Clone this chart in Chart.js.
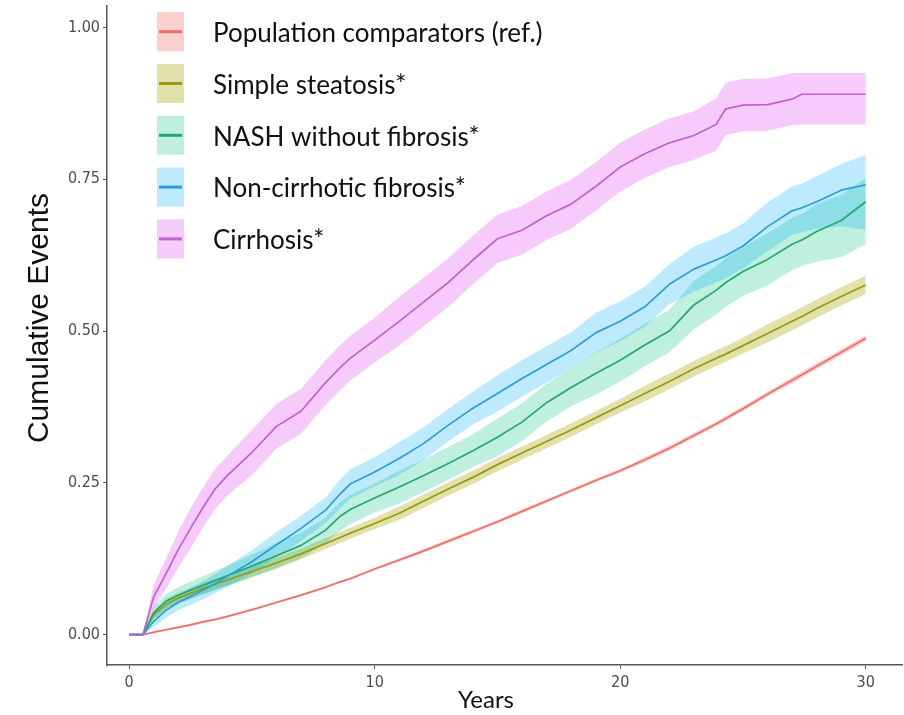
<!DOCTYPE html>
<html>
<head>
<meta charset="utf-8">
<title>Cumulative Events</title>
<script src="https://cdn.jsdelivr.net/npm/chart.js@4.4.1/dist/chart.umd.min.js"></script>
<style>
  html, body { margin: 0; padding: 0; background: #fff; }
  #kmChart { display: block; }
</style>
</head>
<body>
<canvas id="kmChart" width="904" height="715"></canvas>
<script>
// time points (years) shared by every curve
const years = [0, 0.56, 1, 1.5, 2, 2.5, 3, 3.5, 4, 5, 6, 7, 8, 8.6, 9, 10, 11, 12, 13, 14, 15, 16, 17, 18, 19, 20, 21, 22, 23, 23.9, 24.3, 25, 26, 27, 27.4, 28, 29, 30];

const xTicks = [0, 10, 20, 30];
const yTicks = [0, 0.25, 0.5, 0.75, 1];

const seriesNames = [
    'Population comparators (ref.)',
    'Simple steatosis*',
    'NASH without fibrosis*',
    'Non-cirrhotic fibrosis*',
    'Cirrhosis*'
];

// Population comparators (ref.)
const popMean = [0, 0, 0.004, 0.008, 0.012, 0.016, 0.021, 0.025, 0.03, 0.041, 0.053, 0.065, 0.078, 0.087, 0.092, 0.108, 0.123, 0.138, 0.154, 0.17, 0.186, 0.203, 0.22, 0.237, 0.254, 0.27, 0.288, 0.307, 0.328, 0.347, 0.356, 0.372, 0.396, 0.419, 0.428, 0.442, 0.465, 0.488];
const popHigh = [0, 0, 0.006, 0.010, 0.014, 0.018, 0.023, 0.027, 0.032, 0.043, 0.055, 0.067, 0.080, 0.089, 0.094, 0.110, 0.126, 0.141, 0.157, 0.173, 0.189, 0.206, 0.223, 0.240, 0.257, 0.273, 0.292, 0.311, 0.332, 0.351, 0.360, 0.376, 0.400, 0.424, 0.433, 0.447, 0.470, 0.493];
const popLow = [0, 0, 0.002, 0.006, 0.010, 0.014, 0.019, 0.023, 0.028, 0.039, 0.051, 0.063, 0.076, 0.085, 0.090, 0.106, 0.120, 0.135, 0.151, 0.167, 0.183, 0.200, 0.217, 0.234, 0.251, 0.267, 0.284, 0.303, 0.324, 0.343, 0.352, 0.368, 0.392, 0.414, 0.423, 0.437, 0.460, 0.483];

// Simple steatosis
const ssMean = [0, 0, 0.033, 0.05, 0.06, 0.068, 0.076, 0.083, 0.09, 0.104, 0.118, 0.133, 0.15, 0.16, 0.167, 0.183, 0.2, 0.22, 0.24, 0.259, 0.28, 0.299, 0.318, 0.337, 0.357, 0.377, 0.397, 0.417, 0.438, 0.455, 0.462, 0.476, 0.496, 0.516, 0.524, 0.537, 0.557, 0.576];
const ssHigh = [0, 0, 0.040, 0.059, 0.069, 0.077, 0.085, 0.092, 0.099, 0.113, 0.127, 0.142, 0.159, 0.169, 0.176, 0.192, 0.211, 0.231, 0.251, 0.270, 0.291, 0.310, 0.329, 0.348, 0.368, 0.388, 0.410, 0.430, 0.451, 0.468, 0.475, 0.489, 0.511, 0.531, 0.539, 0.552, 0.572, 0.591];
const ssLow = [0, 0, 0.026, 0.041, 0.051, 0.059, 0.067, 0.074, 0.081, 0.095, 0.109, 0.124, 0.141, 0.151, 0.158, 0.174, 0.189, 0.209, 0.229, 0.248, 0.269, 0.288, 0.307, 0.326, 0.346, 0.366, 0.384, 0.404, 0.425, 0.442, 0.449, 0.463, 0.481, 0.501, 0.509, 0.522, 0.542, 0.561];

// NASH without fibrosis
const nashMean = [0, 0, 0.036, 0.055, 0.065, 0.073, 0.081, 0.089, 0.097, 0.113, 0.13, 0.147, 0.172, 0.195, 0.206, 0.225, 0.243, 0.262, 0.282, 0.303, 0.325, 0.35, 0.382, 0.407, 0.43, 0.452, 0.477, 0.5, 0.543, 0.567, 0.58, 0.598, 0.618, 0.643, 0.65, 0.664, 0.682, 0.713];
const nashHigh = [0, 0, 0.046, 0.067, 0.078, 0.087, 0.096, 0.105, 0.114, 0.132, 0.151, 0.168, 0.193, 0.219, 0.230, 0.249, 0.270, 0.289, 0.309, 0.330, 0.356, 0.381, 0.413, 0.438, 0.465, 0.487, 0.512, 0.535, 0.583, 0.607, 0.620, 0.638, 0.661, 0.686, 0.693, 0.709, 0.724, 0.752];
const nashLow = [0, 0, 0.026, 0.043, 0.052, 0.059, 0.066, 0.073, 0.080, 0.094, 0.109, 0.126, 0.151, 0.171, 0.182, 0.201, 0.216, 0.235, 0.255, 0.276, 0.294, 0.319, 0.351, 0.376, 0.395, 0.417, 0.442, 0.465, 0.503, 0.527, 0.540, 0.558, 0.575, 0.600, 0.607, 0.614, 0.622, 0.643];

// Non-cirrhotic fibrosis
const ncfMean = [0, 0, 0.022, 0.04, 0.053, 0.063, 0.073, 0.084, 0.096, 0.12, 0.148, 0.175, 0.205, 0.232, 0.248, 0.268, 0.29, 0.315, 0.345, 0.373, 0.397, 0.422, 0.445, 0.468, 0.497, 0.516, 0.54, 0.577, 0.602, 0.617, 0.624, 0.64, 0.672, 0.698, 0.703, 0.713, 0.732, 0.741];
const ncfHigh = [0, 0, 0.032, 0.052, 0.066, 0.077, 0.088, 0.100, 0.113, 0.139, 0.169, 0.196, 0.226, 0.256, 0.272, 0.292, 0.317, 0.342, 0.372, 0.400, 0.427, 0.452, 0.475, 0.498, 0.530, 0.549, 0.573, 0.610, 0.639, 0.654, 0.661, 0.677, 0.712, 0.738, 0.743, 0.755, 0.775, 0.790];
const ncfLow = [0, 0, 0.012, 0.028, 0.040, 0.049, 0.058, 0.068, 0.079, 0.101, 0.127, 0.154, 0.184, 0.208, 0.224, 0.244, 0.263, 0.288, 0.318, 0.346, 0.367, 0.392, 0.415, 0.438, 0.464, 0.483, 0.507, 0.544, 0.565, 0.580, 0.587, 0.603, 0.632, 0.658, 0.663, 0.668, 0.672, 0.667];

// Cirrhosis
const cirMean = [0, 0, 0.062, 0.1, 0.14, 0.175, 0.209, 0.24, 0.262, 0.3, 0.343, 0.368, 0.415, 0.44, 0.455, 0.485, 0.516, 0.548, 0.58, 0.617, 0.652, 0.666, 0.69, 0.709, 0.738, 0.77, 0.792, 0.81, 0.822, 0.84, 0.866, 0.872, 0.873, 0.882, 0.89, 0.89, 0.89, 0.89];
const cirHigh = [0, 0, 0.082, 0.125, 0.170, 0.208, 0.242, 0.273, 0.295, 0.337, 0.380, 0.405, 0.452, 0.477, 0.492, 0.522, 0.556, 0.588, 0.620, 0.657, 0.692, 0.706, 0.730, 0.749, 0.778, 0.810, 0.832, 0.850, 0.862, 0.883, 0.909, 0.915, 0.916, 0.925, 0.925, 0.925, 0.925, 0.925];
const cirLow = [0, 0, 0.042, 0.075, 0.110, 0.142, 0.176, 0.207, 0.229, 0.263, 0.306, 0.331, 0.378, 0.403, 0.418, 0.448, 0.476, 0.508, 0.540, 0.577, 0.612, 0.626, 0.650, 0.669, 0.698, 0.730, 0.752, 0.770, 0.782, 0.797, 0.823, 0.829, 0.830, 0.839, 0.840, 0.840, 0.840, 0.840];

const means = [popMean, ssMean, nashMean, ncfMean, cirMean];
const highs = [popHigh, ssHigh, nashHigh, ncfHigh, cirHigh];
const lows = [popLow, ssLow, nashLow, ncfLow, cirLow];

const lineColors = ['#EC7068', '#9A9A12', '#1FAA6E', '#2A9ED8', '#C062D2'];
const bandColors = [
    'rgba(248,118,109,0.35)',
    'rgba(163,165,0,0.33)',
    'rgba(0,191,125,0.25)',
    'rgba(0,176,246,0.26)',
    'rgba(231,107,243,0.36)'
];

// small line height keeps Chart.js from reserving room above the top tick
const tickFont = { family: '"Liberation Sans Narrow", "Arial Narrow", "DejaVu Sans Condensed", sans-serif', size: 16, lineHeight: 0.4 };

function toPoints(values) {
    return values.map((v, i) => ({ x: years[i], y: v }));
}

const datasets = [];
seriesNames.forEach((name, i) => {
    datasets.push({
        label: name + ' upper',
        data: toPoints(highs[i]),
        borderWidth: 0,
        pointRadius: 0,
        fill: false,
        order: 100 - i
    });
    datasets.push({
        label: name + ' lower',
        data: toPoints(lows[i]),
        borderWidth: 0,
        pointRadius: 0,
        fill: '-1',
        backgroundColor: bandColors[i],
        order: 100 - i
    });
});
seriesNames.forEach((name, i) => {
    datasets.push({
        label: name,
        data: toPoints(means[i]),
        borderColor: lineColors[i],
        borderWidth: 1.7,
        pointRadius: 0,
        fill: false,
        tension: 0,
        order: 10 - i
    });
});

// axis titles and the legend box inside the panel
const annotations = {
    id: 'annotations',
    afterDraw(chart) {
        const ctx = chart.ctx;
        ctx.save();

        ctx.fillStyle = '#111';
        ctx.textAlign = 'center';
        ctx.textBaseline = 'middle';
        ctx.translate(40, 318);
        ctx.rotate(-Math.PI / 2);
        ctx.font = '30px "Liberation Sans", Arial, sans-serif';
        ctx.fillText('Cumulative Events', 0, 0);
        ctx.setTransform(1, 0, 0, 1, 0, 0);

        ctx.font = '24px Lato, "Open Sans", sans-serif';
        ctx.textBaseline = 'alphabetic';
        ctx.fillText('Years', 486, 708);

        seriesNames.forEach((name, i) => {
            const rowY = 31.7 + i * 51.8;
            ctx.fillStyle = bandColors[i];
            ctx.fillRect(157, rowY - 19.5, 27, 39);
            ctx.strokeStyle = lineColors[i];
            ctx.lineWidth = 3;
            ctx.beginPath();
            ctx.moveTo(159, rowY);
            ctx.lineTo(182, rowY);
            ctx.stroke();
            ctx.fillStyle = '#111';
            ctx.textAlign = 'left';
            ctx.textBaseline = 'middle';
            ctx.font = '26px Lato, "Open Sans", sans-serif';
            ctx.fillText(name, 213, rowY + 2);
        });
        ctx.restore();
    }
};

new Chart(document.getElementById('kmChart'), {
    type: 'line',
    data: { datasets: datasets },
    options: {
        responsive: false,
        animation: false,
        devicePixelRatio: 1,
        layout: { padding: { top: 0, right: 1.4, left: 0, bottom: 0 } },
        plugins: {
            legend: { display: false },
            tooltip: { enabled: false }
        },
        elements: { line: { borderJoinStyle: 'round' } },
        scales: {
            x: {
                type: 'linear',
                min: -0.9,
                max: 31.5,
                afterBuildTicks: (scale) => { scale.ticks = xTicks.map(v => ({ value: v })); },
                afterFit: (scale) => { scale.height = 50; },
                grid: { display: true, drawOnChartArea: false, drawTicks: true, tickLength: 4, color: '#555', lineWidth: 1 },
                border: { display: true, color: '#555', width: 1.5 },
                ticks: {
                    font: { family: tickFont.family, size: 16 },
                    color: '#4d4d4d',
                    padding: 4,
                    maxRotation: 0,
                    autoSkip: false,
                    callback: (v) => String(v)
                }
            },
            y: {
                type: 'linear',
                min: -0.05,
                max: 1.035,
                afterBuildTicks: (scale) => { scale.ticks = yTicks.map(v => ({ value: v })); },
                afterFit: (scale) => { scale.width = 107; },
                grid: { display: true, drawOnChartArea: false, drawTicks: true, tickLength: 4, color: '#555', lineWidth: 1 },
                border: { display: true, color: '#555', width: 1.5 },
                ticks: {
                    font: tickFont,
                    color: '#4d4d4d',
                    padding: 3,
                    autoSkip: false,
                    callback: (v) => Number(v).toFixed(2)
                }
            }
        }
    },
    plugins: [annotations]
});
</script>
</body>
</html>
